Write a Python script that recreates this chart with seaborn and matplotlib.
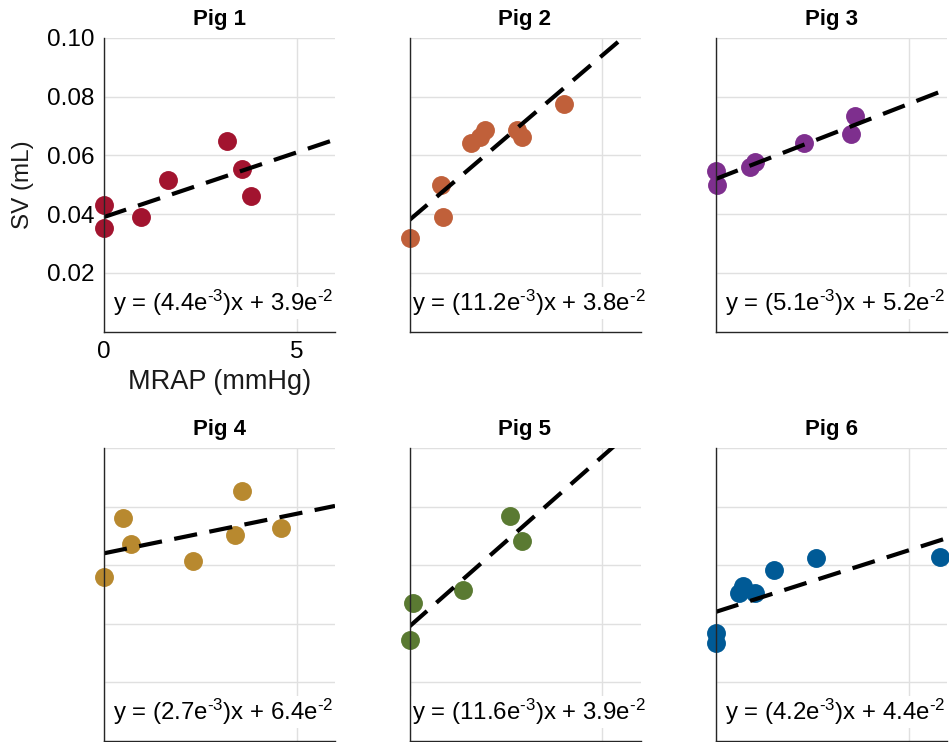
import numpy as np
import pandas as pd
import matplotlib
matplotlib.use("Agg")
import matplotlib.pyplot as plt
import seaborn as sns

# ---------------- data ----------------
pig_names = ["Pig 1", "Pig 2", "Pig 3", "Pig 4", "Pig 5", "Pig 6"]

pig1_x = [0.0, 0.0, 0.95, 1.67, 3.20, 3.59, 3.83]
pig1_y = [0.0431, 0.0352, 0.0389, 0.0516, 0.0650, 0.0554, 0.0460]

pig2_x = [0.0, 0.82, 0.86, 1.59, 1.83, 1.96, 2.78, 2.93, 4.01]
pig2_y = [0.0318, 0.0500, 0.0390, 0.0642, 0.0664, 0.0687, 0.0687, 0.0662, 0.0775]

pig3_x = [0.0, 0.03, 0.88, 1.01, 2.28, 3.50, 3.60]
pig3_y = [0.0548, 0.0500, 0.0562, 0.0579, 0.0642, 0.0673, 0.0734]

pig4_x = [0.0, 0.49, 0.69, 2.31, 3.39, 3.58, 4.60]
pig4_y = [0.0559, 0.0759, 0.0673, 0.0614, 0.0702, 0.0853, 0.0728]

pig5_x = [0.0, 0.09, 1.40, 2.60, 2.91]
pig5_y = [0.0343, 0.0471, 0.0514, 0.0768, 0.0681]

pig6_x = [0.0, 0.0, 0.60, 0.69, 1.01, 1.50, 2.61, 5.82]
pig6_y = [0.0368, 0.0335, 0.0503, 0.0529, 0.0503, 0.0582, 0.0624, 0.0626]

slopes_e3 = [4.4, 11.2, 5.1, 2.7, 11.6, 4.2]       # x 1e-3
intercepts_e2 = [3.9, 3.8, 5.2, 6.4, 3.9, 4.4]     # x 1e-2

colors = ["#A2142F", "#C0603A", "#7E2F8E", "#B8892F", "#5A7A32", "#005A96"]

xs = [pig1_x, pig2_x, pig3_x, pig4_x, pig5_x, pig6_x]
ys = [pig1_y, pig2_y, pig3_y, pig4_y, pig5_y, pig6_y]

x_ticks = [0, 5]
y_ticks = [0.02, 0.04, 0.06, 0.08, 0.10]
x_label = "MRAP (mmHg)"
y_label = "SV (mL)"

# ---------------- style ----------------
sns.set_theme(style="white")
plt.rcParams["font.family"] = ["Liberation Sans", "DejaVu Sans"]
plt.rcParams["text.color"] = "black"
plt.rcParams["axes.labelcolor"] = "#1a1a1a"
plt.rcParams["mathtext.fontset"] = "custom"
plt.rcParams["mathtext.rm"] = "Liberation Sans"
plt.rcParams["mathtext.it"] = "Liberation Sans"
plt.rcParams["mathtext.bf"] = "Liberation Sans:bold"
plt.rcParams["mathtext.default"] = "regular"

W, H = 949, 742
fig = plt.figure(figsize=(W / 100, H / 100), dpi=100)

col_left = [104, 409.5, 716]
ax_w = 231
row_top = [38, 448]
ax_h = [293.5, 292.5]

for i in range(6):
    r, c = divmod(i, 3)
    left = col_left[c] / W
    bottom = 1 - (row_top[r] + ax_h[r]) / H
    ax = fig.add_axes([left, bottom, ax_w / W, ax_h[r] / H])

    df = pd.DataFrame({"x": xs[i], "y": ys[i]})
    sns.scatterplot(data=df, x="x", y="y", ax=ax, color=colors[i], s=185,
                    linewidth=0, zorder=3, clip_on=False)

    m = slopes_e3[i] * 1e-3
    b = intercepts_e2[i] * 1e-2
    xl = np.array([0.0, 6.0])
    line_df = pd.DataFrame({"x": xl, "y": m * xl + b})
    sns.lineplot(data=line_df, x="x", y="y", ax=ax, color="black", linewidth=3.0,
                 zorder=4)
    ax.lines[-1].set_linestyle((0, (5.6, 3.0)))
    ax.lines[-1].set_dash_capstyle("butt")

    ax.set_xlim(0, 6)
    ax.set_ylim(0, 0.10)
    ax.set_xticks(x_ticks)
    ax.set_yticks(y_ticks)
    ax.grid(True, color="#e0e0e0", linewidth=1.0)
    ax.set_axisbelow(True)
    for s in ["top", "right"]:
        ax.spines[s].set_visible(False)
    for s in ["left", "bottom"]:
        ax.spines[s].set_color("#262626")
        ax.spines[s].set_linewidth(1.0)
        ax.spines[s].set_zorder(6)
    ax.tick_params(direction="in", length=4, width=0.8, color="#262626",
                   labelsize=17.5, labelcolor="black", pad=7)

    ax.set_title(pig_names[i], fontsize=16, fontweight="bold", pad=9,
                 color="black")

    eq = r"y = (%.1fe$^{\text{-3}}$)x + %.1fe$^{\text{-2}}$" % (slopes_e3[i], intercepts_e2[i])
    ax.text(0.515, 0.097, eq, transform=ax.transAxes, ha="center", va="center",
            fontsize=17.3, color="black", zorder=5,
            bbox=dict(facecolor="white", edgecolor="none", pad=0.5))

    if i == 0:
        ax.set_yticklabels(["%.2f" % v for v in y_ticks])
        ax.set_xticklabels([str(v) for v in x_ticks])
        ax.set_xlabel(x_label, fontsize=19.5, labelpad=4)
        ax.set_ylabel(y_label, fontsize=17.5, labelpad=9)
    else:
        ax.set_xticklabels([])
        ax.set_yticklabels([])
        ax.set_xlabel("")
        ax.set_ylabel("")

fig.savefig("out.png", dpi=100)
